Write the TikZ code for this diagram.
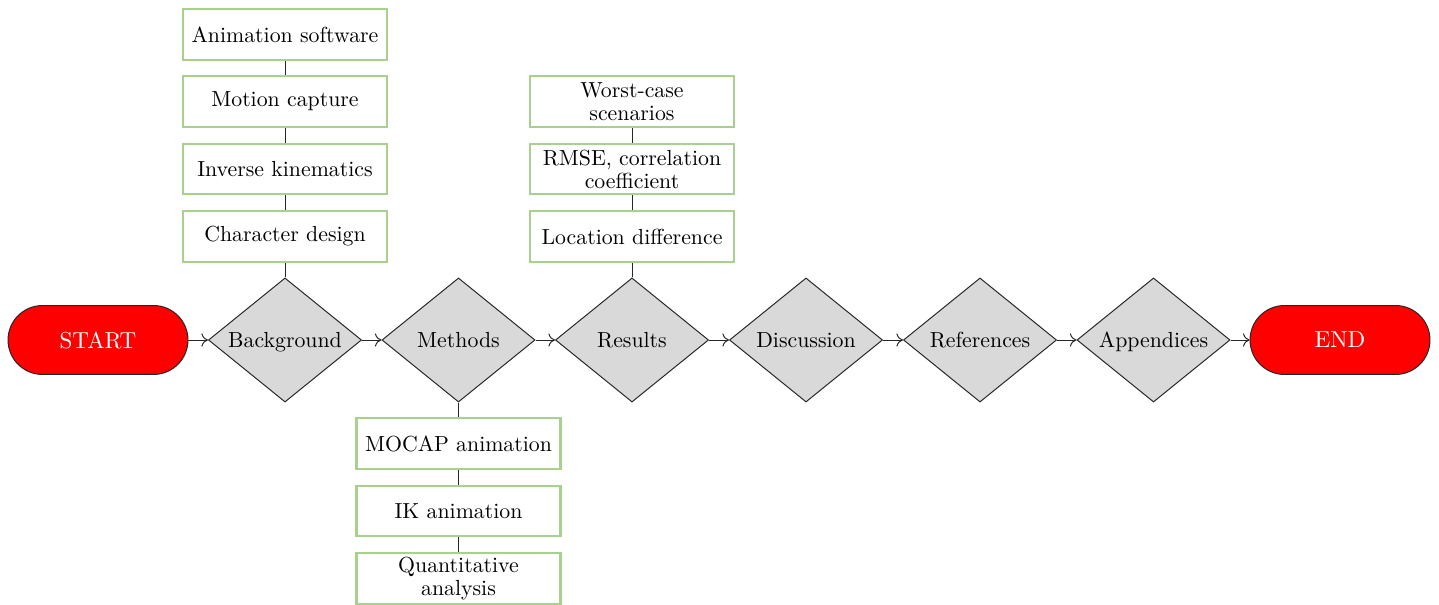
\documentclass[tikz,border=0pt]{standalone}
\usetikzlibrary{shapes.geometric,arrows.meta}
\definecolor{boxgreen}{RGB}{169,209,142}
\definecolor{dgray}{RGB}{217,217,217}
\begin{document}
\begin{tikzpicture}[x=0.4585pt,y=-0.4585pt,
  every node/.style={font=\fontsize{10}{10.5}\selectfont},
  topic/.style={draw=boxgreen,line width=1pt,fill=white,minimum width=93.5pt,minimum height=23.2pt,inner sep=1pt,align=center},
  section/.style={diamond,draw=black!85,fill=dgray,line width=0.45pt,aspect=1.23,inner sep=0pt,minimum width=70.2pt,minimum height=56.9pt,text height=7.6pt,text depth=1pt},
  terminal/.style={draw=black!85,fill=red,text=white,line width=0.45pt,rounded corners=15.8pt,minimum width=82.5pt,minimum height=31.6pt,font=\fontsize{10.6}{11}\selectfont},
  flow/.style={draw=black!85,line width=0.45pt,-{To[length=3pt,width=6pt]}},
  link/.style={draw=black!85,line width=0.45pt}]
\useasboundingbox (0,0) rectangle (1439,605);

\node[terminal] (start) at (98,340) {START};
\node[section] (bg) at (285,340) {Background};
\node[section] (me) at (458.5,340) {Methods};
\node[section] (re) at (632,340) {Results};
\node[section] (di) at (806,340) {Discussion};
\node[section] (rf) at (980,340) {References};
\node[section] (ap) at (1153.5,340) {Appendices};
\node[terminal] (end) at (1340,340) {END};

\node[topic] (b1) at (285,34.5) {Animation software};
\node[topic] (b2) at (285,101.5) {Motion capture};
\node[topic] (b3) at (285,169) {Inverse kinematics};
\node[topic] (b4) at (285,236.5) {Character design};

\node[topic] (r1) at (632,101.5) {Worst-case\\scenarios};
\node[topic] (r2) at (632,169) {RMSE, correlation\\coefficient};
\node[topic] (r3) at (632,236.5) {Location difference};

\node[topic] (m1) at (458.5,443.5) {MOCAP animation};
\node[topic] (m2) at (458.5,511) {IK animation};
\node[topic] (m3) at (458.5,578.5) {Quantitative\\analysis};

\draw[flow] (start) -- (bg);
\draw[flow] (bg) -- (me);
\draw[flow] (me) -- (re);
\draw[flow] (re) -- (di);
\draw[flow] (di) -- (rf);
\draw[flow] (rf) -- (ap);
\draw[flow] (ap) -- (end);

\draw[link] (bg.north) -- (b4.south);
\draw[link] (b4.north) -- (b3.south);
\draw[link] (b3.north) -- (b2.south);
\draw[link] (b2.north) -- (b1.south);

\draw[link] (re.north) -- (r3.south);
\draw[link] (r3.north) -- (r2.south);
\draw[link] (r2.north) -- (r1.south);

\draw[link] (me.south) -- (m1.north);
\draw[link] (m1.south) -- (m2.north);
\draw[link] (m2.south) -- (m3.north);
\end{tikzpicture}
\end{document}
